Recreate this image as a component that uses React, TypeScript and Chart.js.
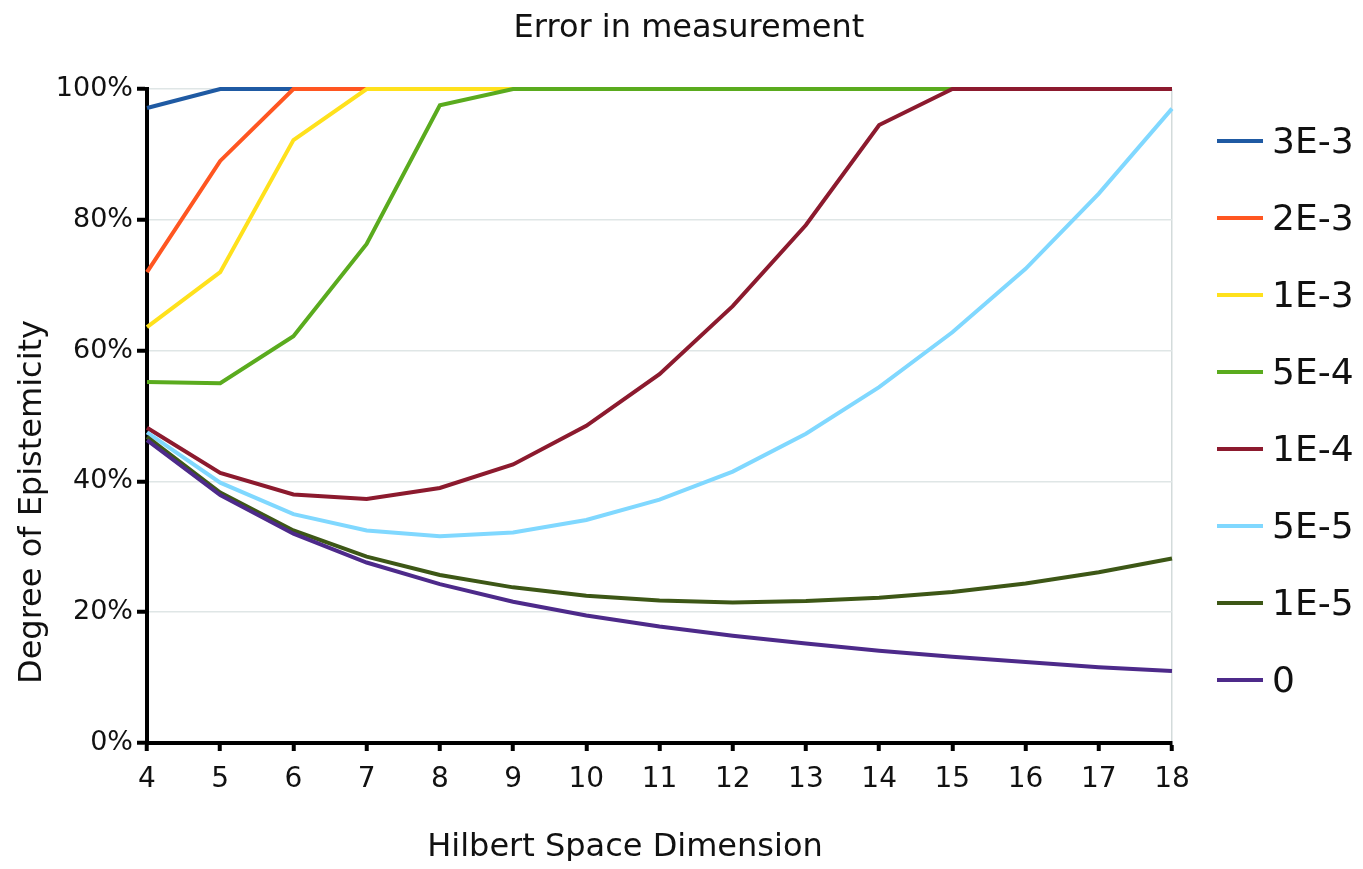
import React, { useEffect, useRef } from "react";
import { Chart, registerables } from "chart.js";

Chart.register(...registerables);

const dimensions = ["4", "5", "6", "7", "8", "9", "10", "11", "12", "13", "14", "15", "16", "17", "18"];
const seriesNames = ["3E-3", "2E-3", "1E-3", "5E-4", "1E-4", "5E-5", "1E-5", "0"];
const seriesColors = ["#1f5aa3", "#ff5621", "#ffe11c", "#5aab1e", "#8c1a2e", "#80d8ff", "#3d5716", "#4d2a8a"];

const err3e3 = [97.1, 100, 100, 100, 100, 100, 100, 100, 100, 100, 100, 100, 100, 100, 100];
const err2e3 = [72.0, 89.0, 100, 100, 100, 100, 100, 100, 100, 100, 100, 100, 100, 100, 100];
const err1e3 = [63.6, 72.0, 92.2, 100, 100, 100, 100, 100, 100, 100, 100, 100, 100, 100, 100];
const err5e4 = [55.2, 55.0, 62.2, 76.3, 97.5, 100, 100, 100, 100, 100, 100, 100, 100, 100, 100];
const err1e4 = [48.2, 41.3, 38.0, 37.3, 39.0, 42.6, 48.5, 56.4, 66.8, 79.2, 94.5, 100, 100, 100, 100];
const err5e5 = [47.5, 39.8, 35.0, 32.5, 31.6, 32.2, 34.1, 37.2, 41.5, 47.3, 54.4, 62.8, 72.5, 84.0, 97.0];
const err1e5 = [46.8, 38.3, 32.5, 28.5, 25.7, 23.8, 22.5, 21.8, 21.5, 21.7, 22.2, 23.1, 24.4, 26.1, 28.2];
const err0 = [46.3, 37.9, 32.0, 27.6, 24.3, 21.6, 19.5, 17.8, 16.4, 15.2, 14.1, 13.2, 12.4, 11.6, 11.0];

const seriesValues = [err3e3, err2e3, err1e3, err5e4, err1e4, err5e5, err1e5, err0];
const yTicks = [0, 20, 40, 60, 80, 100];

const titleText = "Error in measurement";
const xTitleText = "Hilbert Space Dimension";
const yTitleText = "Degree of Epistemicity";

const FONT = "'DejaVu Sans', sans-serif";

const textPlugin = {
  id: "customText",
  afterDraw(chart: any) {
    const ctx = chart.ctx;
    ctx.save();
    ctx.fillStyle = "#111";
    ctx.font = `32px ${FONT}`;
    ctx.textAlign = "center";
    ctx.textBaseline = "middle";
    ctx.fillText(titleText, 681, 21);
    ctx.fillText(xTitleText, 617, 840);
    ctx.save();
    ctx.translate(25, 494);
    ctx.rotate(-Math.PI / 2);
    ctx.fillText(yTitleText, 0, 0);
    ctx.restore();

    // legend
    ctx.textAlign = "left";
    ctx.font = `36px ${FONT}`;
    seriesNames.forEach((name, i) => {
      const y = 133 + 77 * i;
      ctx.strokeStyle = seriesColors[i];
      ctx.lineWidth = 4;
      ctx.beginPath();
      ctx.moveTo(1209, y);
      ctx.lineTo(1255, y);
      ctx.stroke();
      ctx.fillStyle = "#111";
      ctx.fillText(name, 1264, y + 3);
    });
    ctx.restore();
  },
};

export default function App() {
  const canvasRef = useRef<HTMLCanvasElement | null>(null);

  useEffect(() => {
    if (!canvasRef.current) return;
    const chart = new Chart(canvasRef.current, {
      type: "line",
      data: {
        labels: dimensions,
        datasets: seriesNames.map((name, i) => ({
          label: name,
          data: seriesValues[i],
          borderColor: seriesColors[i],
          backgroundColor: seriesColors[i],
          borderWidth: 4,
          pointRadius: 0,
          tension: 0,
          fill: false,
          order: seriesNames.length - i,
          clip: 6,
        })),
      },
      options: {
        animation: false,
        responsive: false,
        maintainAspectRatio: false,
        layout: { padding: { top: 81, right: 183, left: 0, bottom: 0 } },
        plugins: {
          legend: { display: false },
          title: { display: false },
          tooltip: { enabled: false },
        },
        scales: {
          x: {
            type: "category",
            offset: false,
            afterFit: (scale: any) => {
              scale.height = 118;
            },
            grid: {
              color: (c: any) => (c.index === dimensions.length - 1 ? "#d3dbdb" : "rgba(0,0,0,0)"),
              lineWidth: 1.5,
              tickColor: "#000",
              tickWidth: 4,
              tickLength: 8,
              drawOnChartArea: true,
            },
            border: { color: "#000", width: 4 },
            ticks: {
              color: "#111",
              font: { family: FONT, size: 28 },
              padding: 12,
              maxRotation: 0,
              autoSkip: false,
            },
          },
          y: {
            min: 0,
            max: 100,
            afterFit: (scale: any) => {
              scale.width = 139;
            },
            afterBuildTicks: (scale: any) => {
              scale.ticks = yTicks.map((v) => ({ value: v }));
            },
            grid: {
              color: "#dfe6e6",
              lineWidth: 1.5,
              tickColor: "#000",
              tickWidth: 4,
              tickLength: 10,
            },
            border: { color: "#000", width: 4 },
            ticks: {
              color: "#111",
              font: { family: FONT, size: 27 },
              padding: 4,
              callback: (v: any) => `${v}%`,
            },
          },
        },
      },
      plugins: [textPlugin],
    });
    return () => chart.destroy();
  }, []);

  return (
    <div style={{ width: 1347, height: 853 }}>
      <canvas ref={canvasRef} width={1347} height={853} style={{ display: "block" }} />
    </div>
  );
}
